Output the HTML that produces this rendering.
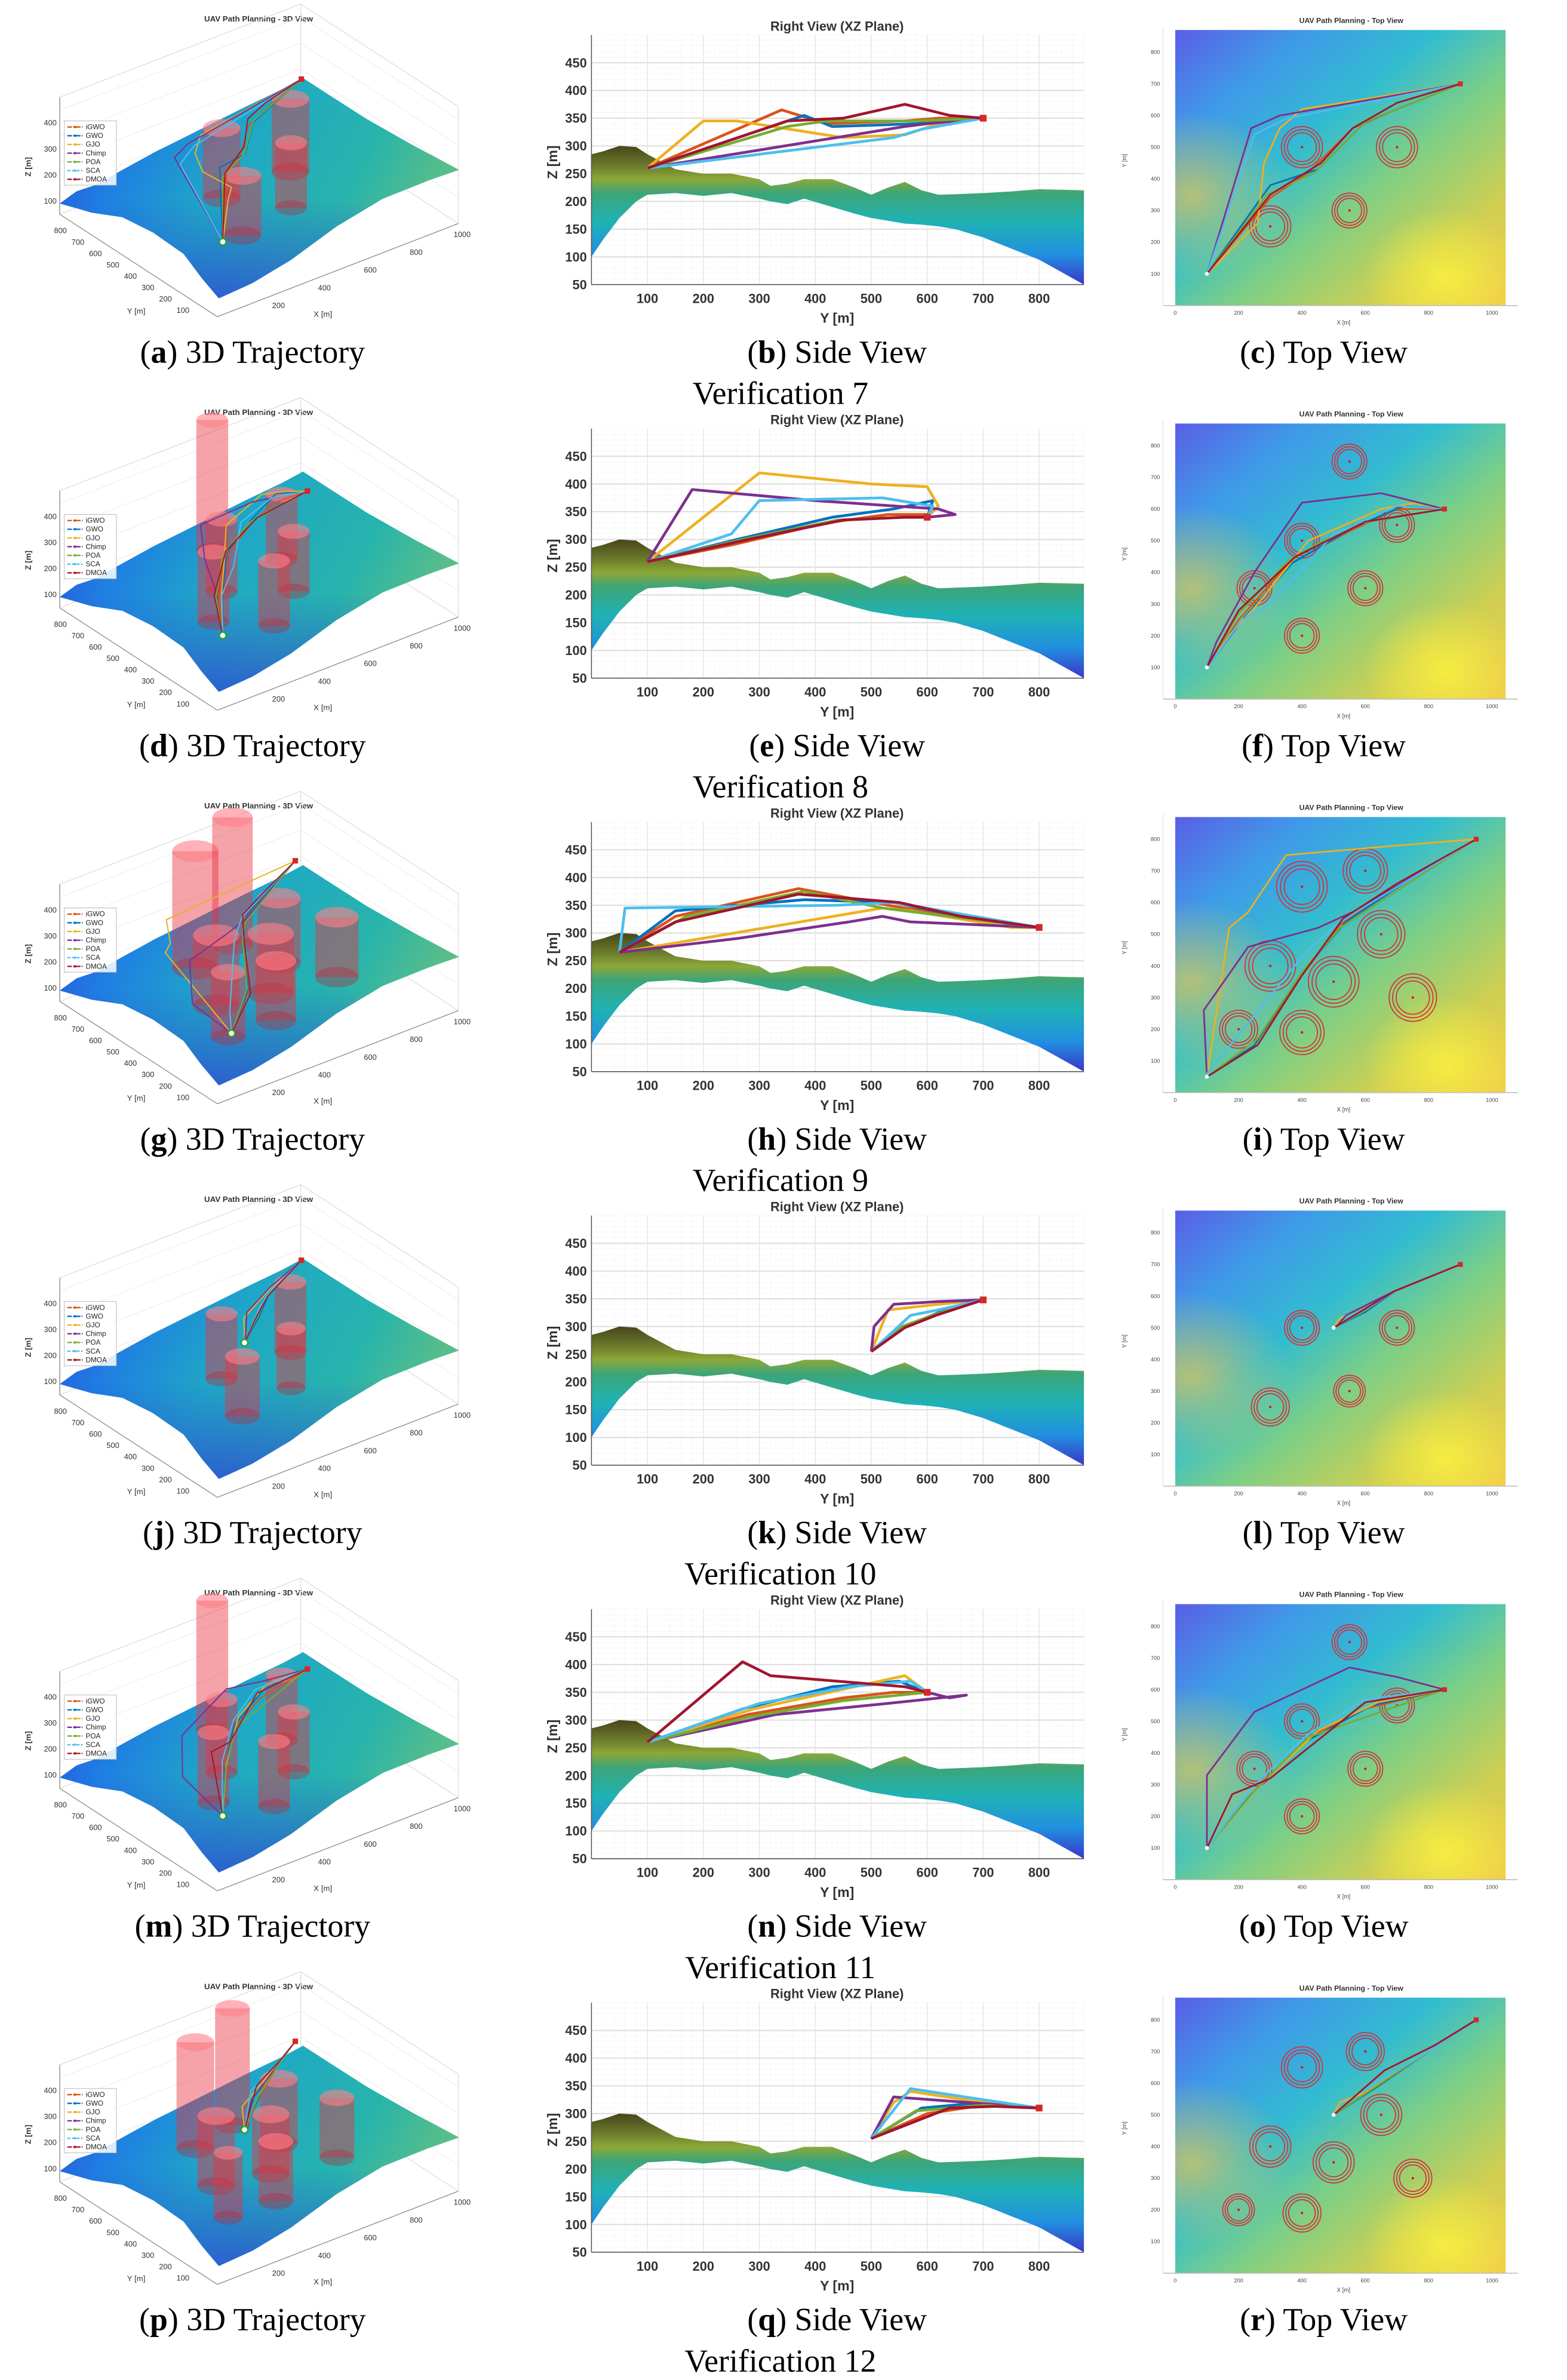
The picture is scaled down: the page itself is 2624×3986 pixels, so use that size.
<!DOCTYPE html>
<html><head><meta charset="utf-8"><title>UAV Path Planning Verification 7-12</title>
<style>
html,body{margin:0;padding:0;background:#fff;}
svg{display:block;}
text{font-family:"Liberation Sans",sans-serif;}
.cap{font-family:"Liberation Serif",serif;font-size:21px;fill:#000;}
</style></head>
<body>
<svg id="fig" xmlns="http://www.w3.org/2000/svg" width="2624" height="3986" viewBox="0 0 1024 1555.5" preserveAspectRatio="none">
<defs>
<linearGradient id="sideTerr" x1="0" y1="0" x2="0" y2="1">
<stop offset="0" stop-color="#474519"/><stop offset="0.14" stop-color="#6b7a2c"/>
<stop offset="0.24" stop-color="#8ca838"/><stop offset="0.34" stop-color="#3da577"/>
<stop offset="0.55" stop-color="#1fb2b5"/><stop offset="0.78" stop-color="#2190e0"/>
<stop offset="1" stop-color="#3a36c8"/></linearGradient>
<linearGradient id="topBg" x1="0" y1="0" x2="1" y2="1">
<stop offset="0" stop-color="#5a5ee6"/><stop offset="0.2" stop-color="#3f9ae8"/>
<stop offset="0.4" stop-color="#32bcd0"/><stop offset="0.58" stop-color="#7ccf86"/>
<stop offset="0.8" stop-color="#cfcf52"/><stop offset="1" stop-color="#f2c64c"/></linearGradient>
<radialGradient id="topSpot" cx="0.82" cy="0.9" r="0.25">
<stop offset="0" stop-color="#f8f040" stop-opacity="0.9"/><stop offset="1" stop-color="#f8f040" stop-opacity="0"/></radialGradient>
<radialGradient id="topSpot2" cx="0.05" cy="0.6" r="0.3">
<stop offset="0" stop-color="#e8c850" stop-opacity="0.7"/><stop offset="1" stop-color="#e8c850" stop-opacity="0"/></radialGradient>
<linearGradient id="terr3d" x1="0" y1="0" x2="1" y2="0.3">
<stop offset="0" stop-color="#2b45dc"/><stop offset="0.25" stop-color="#1f7fe2"/>
<stop offset="0.5" stop-color="#1fa8c6"/><stop offset="0.8" stop-color="#27b4ac"/>
<stop offset="1" stop-color="#58bd8a"/></linearGradient>
<linearGradient id="terr3dShade" x1="0" y1="0" x2="0" y2="1">
<stop offset="0.55" stop-color="#2f40d8" stop-opacity="0"/><stop offset="1" stop-color="#2f40d8" stop-opacity="0.7"/></linearGradient>
</defs>
</svg>
<script>
// ---------------- data ----------------
const algoNames = ['iGWO','GWO','GJO','Chimp','POA','SCA','DMOA'];
const algoColors = ['#d95319','#0072bd','#edb120','#7e2f8e','#77ac30','#4dbeee','#a2142f'];
const verificationLabels = ['Verification 7','Verification 8','Verification 9','Verification 10','Verification 11','Verification 12'];
const panelLetters = [['a','b','c'],['d','e','f'],['g','h','i'],['j','k','l'],['m','n','o'],['p','q','r']];
const zTicks = [50,100,150,200,250,300,350,400,450];
const yTicks = [100,200,300,400,500,600,700,800];
const topTicks = [0,200,400,600,800,1000];
const topYTicks = [100,200,300,400,500,600,700,800];
const z3dTicks = [100,200,300,400];
const x3dTicks = [200,400,600,800,1000];
const y3dTicks = [100,200,300,400,500,600,700,800];
// side-view terrain profile (Y, ridge Z, front-bottom Z)
const terrY = [0,20,50,80,100,150,200,250,300,320,350,380,430,470,500,530,560,590,620,650,700,750,800,880];
const terrTop = [285,290,300,298,285,258,250,250,240,228,232,240,240,225,212,225,235,220,212,213,215,218,222,220];
const terrBot = [100,130,170,200,212,215,210,215,205,200,195,205,190,178,170,165,160,158,155,150,135,115,95,50];
// starts / goals [x,y,z]
const starts = [[100,100,260],[100,100,260],[100,50,265],[500,500,255],[100,100,260],[500,500,255]];
const goals = [[900,700,350],[850,600,340],[950,800,310],[900,700,348],[850,600,350],[950,800,310]];
// obstacles [x,y,r]
const obs7 = [[400,500,65],[700,500,65],[300,250,65],[550,300,55]];
const obs8 = [[550,750,55],[400,500,55],[700,550,55],[250,350,55],[600,350,55],[400,200,55]];
const obs9 = [[400,650,80],[600,700,70],[300,400,80],[650,500,75],[500,350,80],[200,200,60],[400,190,70],[750,300,75]];
const obs10 = [[400,500,55],[700,500,55],[300,250,60],[550,300,50]];
const obs11 = [[550,750,55],[400,500,55],[700,550,55],[250,350,55],[600,350,55],[400,200,55]];
const obs12 = [[400,650,65],[600,700,60],[300,400,65],[650,500,65],[500,350,65],[200,200,50],[400,190,60],[750,300,60]];
const obstacles = [obs7,obs8,obs9,obs10,obs11,obs12];
// cylinder top heights (3D view)
const cylTop = [[420,430,380,400],[650,430,400,420,380,400],[600,640,420,400,380,400,380,380],[400,420,380,380],[650,430,400,420,380,400],[560,600,420,400,380,400,380,380]];
// waypoints per algorithm [x,y,z]
const paths7 = [
 [[300,340,365],[420,420,340],[560,560,345],[700,620,350]],
 [[300,380,355],[450,430,335],[600,580,340]],
 [[200,200,345],[260,260,345],[280,450,315],[330,560,320],[400,620,340]],
 [[240,560,335],[330,600,340]],
 [[290,350,335],[440,420,345],[600,580,345]],
 [[250,540,315],[350,590,330]],
 [[300,350,345],[460,450,350],[560,560,375],[700,640,355]]];
const paths8 = [
 [[200,250,290],[350,420,330],[550,530,345],[700,600,345]],
 [[220,260,300],[370,430,340],[560,540,355],[720,610,370]],
 [[170,200,340],[260,300,420],[420,500,400],[650,600,395],[760,620,360]],
 [[130,180,390],[250,400,370],[400,620,355],[650,650,345]],
 [[200,270,300],[360,440,335],[560,550,340]],
 [[210,250,310],[300,300,370],[500,520,375],[700,610,360]],
 [[200,280,300],[380,450,335],[600,560,340]]];
const paths9 = [
 [[250,150,330],[400,370,380],[520,530,350],[700,650,330]],
 [[250,150,340],[400,380,360],[540,540,355],[720,660,330]],
 [[170,520,345],[230,570,340],[350,750,310],[700,780,310]],
 [[90,260,290],[230,460,320],[450,520,330],[560,570,320]],
 [[260,170,330],[400,380,375],[520,520,345]],
 [[100,60,345],[410,440,350],[520,540,355]],
 [[260,150,320],[400,370,370],[530,550,355],[700,660,330]]];
const paths10 = [
 [[600,560,300],[680,610,320]],
 [[600,550,295],[700,620,325]],
 [[520,530,330],[700,620,340]],
 [[510,505,300],[540,540,340],[700,620,345]],
 [[600,555,300],[690,615,322]],
 [[620,570,320],[700,620,330]],
 [[600,560,298],[690,615,320]]];
const paths11 = [
 [[250,280,310],[420,450,340],[600,540,350]],
 [[240,270,320],[400,430,360],[620,550,370]],
 [[260,290,320],[450,470,360],[640,560,380]],
 [[100,330,310],[250,530,330],[550,670,345],[700,640,340]],
 [[250,280,305],[420,450,335]],
 [[250,300,330],[420,460,360],[600,570,370]],
 [[180,270,405],[230,290,395],[300,320,380],[600,560,360]]];
const paths12 = [
 [[650,600,300],[800,700,315]],
 [[640,590,310],[800,700,320]],
 [[520,540,320],[600,570,340],[800,700,320]],
 [[560,540,330],[800,700,318]],
 [[620,580,305],[800,700,315]],
 [[580,570,345],[800,700,325]],
 [[660,640,310],[820,720,313]]];
const allPaths = [paths7,paths8,paths9,paths10,paths11,paths12];

// ---------------- helpers ----------------
const NS='http://www.w3.org/2000/svg';
const svg=document.getElementById('fig');
function mk(tag,parent,attrs){const e=document.createElementNS(NS,tag);for(const k in attrs)e.setAttribute(k,attrs[k]);parent.appendChild(e);return e;}
function txt(parent,x,y,s,size,attrs){const t=mk('text',parent,Object.assign({x:x,y:y,'font-size':size},attrs||{}));t.textContent=s;return t;}
const ROW=257.2;
// axis functions
const sideX=v=>386.5+v*0.3657;
const sideZ=(z,r)=>r+186-(z-50)*0.3625;
const topX=v=>768+v*0.207;
const topY=(v,r)=>r+199.7-v*0.207;
function p3(x,y,z,r){return [142+0.150*x-0.1144*y, r+207-0.058*x-0.0744*y-0.17*(z-50)];}

for(let i=0;i<6;i++){
 const r=i*ROW;
 const row=mk('g',svg,{});
 
 
 const full=[]; // full path per algorithm incl start/goal
 allPaths[i].forEach(p=>full.push([starts[i]].concat(p).concat([goals[i]])));

 // ================= 3D panel =================
 const g3=mk('g',row,{});
 
 
 const t3=txt(g3,169,r+14,'UAV Path Planning - 3D View',5.2,{'text-anchor':'middle','font-weight':'bold',fill:'#333'});
 
 
 const c0=p3(0,0,50,r),cL=p3(0,900,50,r),cR=p3(1050,0,50,r),cB=p3(1050,900,50,r);
 const H=0.17*450;
 const box=[[cL,cB],[cB,cR],[cL,[cL[0],cL[1]-H]],[cB,[cB[0],cB[1]-H]],[cR,[cR[0],cR[1]-H]],[[cL[0],cL[1]-H],[cB[0],cB[1]-H]],[[cB[0],cB[1]-H],[cR[0],cR[1]-H]]];
 box.forEach(b=>mk('line',g3,{x1:b[0][0],y1:b[0][1],x2:b[1][0],y2:b[1][1],stroke:'#dcdcdc','stroke-width':0.5}));
 for(let k=1;k<5;k++){const a=p3(0,900,50+k*100,r),b=p3(1050,900,50+k*100,r),c=p3(1050,0,50+k*100,r);
  mk('polyline',g3,{points:a.join(',')+' '+b.join(',')+' '+c.join(','),fill:'none',stroke:'#ececec','stroke-width':0.4});}
 mk('line',g3,{x1:c0[0],y1:c0[1],x2:cL[0],y2:cL[1],stroke:'#888','stroke-width':0.5});
 mk('line',g3,{x1:c0[0],y1:c0[1],x2:cR[0],y2:cR[1],stroke:'#888','stroke-width':0.5});
 mk('line',g3,{x1:cL[0],y1:cL[1],x2:cL[0],y2:cL[1]-H,stroke:'#888','stroke-width':0.5});
 z3dTicks.forEach(z=>{const p=p3(0,900,z,r);txt(g3,p[0]-2,p[1]+1.5,String(z),5,{'text-anchor':'end',fill:'#333'});});
 y3dTicks.forEach(y=>{const p=p3(0,y,50,r);txt(g3,p[0]-11,p[1]+5,String(y),5,{'text-anchor':'middle',fill:'#333'});});
 x3dTicks.forEach(x=>{const p=p3(x,0,50,r);txt(g3,p[0]+10,p[1]+6,String(x),5,{'text-anchor':'middle',fill:'#333'});});
 txt(g3,89,r+205,'Y [m]',5.2,{'text-anchor':'middle',fill:'#333'});
 txt(g3,211,r+207,'X [m]',5.2,{'text-anchor':'middle',fill:'#333'});
 txt(g3,0,0,'Z [m]',5.2,{'text-anchor':'middle','font-weight':'bold',fill:'#333',transform:'translate(20,'+(r+109)+') rotate(-90)'});
 const terrPts=[[39,133],[50,125],[62,121],[80,111],[100,100],[130,85],[160,70],[185,58],[198,51],[215,62],[240,78],[270,95],[300,111],[280,118],[250,130],[220,148],[190,170],[165,185],[143,195],[132,182],[120,166],[100,152],[80,142],[60,139]];
 const terr=mk('polygon',g3,{points:terrPts.map(p=>p[0]+','+(p[1]+r)).join(' '),fill:'url(#terr3d)'});
 
 
 mk('polygon',g3,{points:terrPts.map(p=>p[0]+','+(p[1]+r)).join(' '),fill:'url(#terr3dShade)'});
 // cylinders
 obstacles[i].forEach((o,k)=>{
  const top=p3(o[0],o[1],cylTop[i][k],r),bot=p3(o[0],o[1],150,r);
  const rx=o[2]*0.189,ry=o[2]*0.09;
  const cg=mk('g',g3,{});
  
  
  mk('rect',cg,{x:top[0]-rx,y:top[1],width:2*rx,height:bot[1]-top[1],fill:'#e83040','fill-opacity':0.45});
  mk('ellipse',cg,{cx:bot[0],cy:bot[1],rx:rx,ry:ry,fill:'#b03040','fill-opacity':0.4});
  mk('ellipse',cg,{cx:top[0],cy:top[1],rx:rx,ry:ry,fill:'#ff8088','fill-opacity':0.6});
 });
 full.forEach((p,a)=>{
  const pl=mk('polyline',g3,{points:p.map(q=>p3(q[0],q[1],q[2],r).join(',')).join(' '),fill:'none',stroke:algoColors[a],'stroke-width':0.8});
  
  
 });
 {const s=p3(starts[i][0],starts[i][1],starts[i][2],r),g=p3(goals[i][0],goals[i][1],goals[i][2],r);
  mk('circle',g3,{cx:s[0],cy:s[1],r:2.2,fill:'#fff',stroke:'#2ca02c','stroke-width':1});
  mk('rect',g3,{x:g[0]-1.8,y:g[1]-1.8,width:3.6,height:3.6,fill:'#d62728'});}
 // legend
 const lg=mk('g',g3,{});
 
 
 mk('rect',lg,{x:42,y:r+79,width:34,height:42,fill:'#fff','fill-opacity':0.85,stroke:'#bbb','stroke-width':0.4});
 algoNames.forEach((n,a)=>{
  const y=r+84.5+a*5.7;
  const le=mk('g',lg,{});
  
  
  mk('line',le,{x1:44,y1:y-1.5,x2:54,y2:y-1.5,stroke:algoColors[a],'stroke-width':0.9,'stroke-dasharray':a==5?'2,1':'3,0.8,1,0.8'});
  mk('circle',le,{cx:49,cy:y-1.5,r:0.8,fill:algoColors[a]});
  txt(le,56,y,n,4.6,{fill:'#222'});
 });

 // ================= Side view =================
 const gs=mk('g',row,{});
 
 
 const st=txt(gs,547,r+20,'Right View (XZ Plane)',8.5,{'text-anchor':'middle','font-weight':'bold',fill:'#333'});
 
 
 for(let v=20;v<=880;v+=20)mk('line',gs,{x1:sideX(v),y1:sideZ(500,r),x2:sideX(v),y2:sideZ(50,r),stroke:'#e6e6e6','stroke-width':0.3,'stroke-dasharray':'0.6,0.8'});
 for(let z=60;z<=500;z+=10)mk('line',gs,{x1:sideX(0),y1:sideZ(z,r),x2:sideX(880),y2:sideZ(z,r),stroke:'#e6e6e6','stroke-width':0.3,'stroke-dasharray':'0.6,0.8'});
 zTicks.forEach(z=>mk('line',gs,{x1:sideX(0),y1:sideZ(z,r),x2:sideX(880),y2:sideZ(z,r),stroke:'#dedede','stroke-width':0.8}));
 yTicks.forEach(v=>mk('line',gs,{x1:sideX(v),y1:sideZ(500,r),x2:sideX(v),y2:sideZ(50,r),stroke:'#e2e2e2','stroke-width':0.5}));
 const tp=terrY.map((v,k)=>sideX(v)+','+sideZ(terrTop[k],r));
 const bp=terrY.map((v,k)=>sideX(v)+','+sideZ(terrBot[k],r)).reverse();
 const gid='sg'+i;
 const lgd=mk('linearGradient',svg.querySelector('defs'),{id:gid,gradientUnits:'userSpaceOnUse',x1:0,y1:sideZ(300,r),x2:0,y2:sideZ(50,r)});
 [['0','#474519'],['0.14','#6b7a2c'],['0.24','#8ca838'],['0.34','#3da577'],['0.55','#1fb2b5'],['0.78','#2190e0'],['1','#3a36c8']].forEach(s=>mk('stop',lgd,{offset:s[0],'stop-color':s[1]}));
 const tpoly=mk('polygon',gs,{points:tp.concat(bp).join(' '),fill:'url(#'+gid+')'});
 
 
 mk('line',gs,{x1:sideX(0),y1:sideZ(500,r),x2:sideX(0),y2:sideZ(50,r),stroke:'#555','stroke-width':0.6});
 mk('line',gs,{x1:sideX(0),y1:sideZ(50,r),x2:sideX(880),y2:sideZ(50,r),stroke:'#555','stroke-width':0.6});
 zTicks.forEach(z=>txt(gs,sideX(0)-3,sideZ(z,r)+3,String(z),8.5,{'text-anchor':'end',fill:'#333','font-weight':'bold'}));
 yTicks.forEach(v=>txt(gs,sideX(v),sideZ(50,r)+12,String(v),8.5,{'text-anchor':'middle',fill:'#333','font-weight':'bold'}));
 txt(gs,547,r+211,'Y [m]',9,{'text-anchor':'middle',fill:'#333','font-weight':'bold'});
 txt(gs,0,0,'Z [m]',9,{'text-anchor':'middle','font-weight':'bold',fill:'#333',transform:'translate(364,'+(r+106)+') rotate(-90)'});
 full.forEach((p,a)=>{
  const pl=mk('polyline',gs,{points:p.map(q=>sideX(q[1])+','+sideZ(q[2],r)).join(' '),fill:'none',stroke:algoColors[a],'stroke-width':1.8,'stroke-linejoin':'round'});
  
  
 });
 mk('rect',gs,{x:sideX(goals[i][1])-2.2,y:sideZ(goals[i][2],r)-2.2,width:4.4,height:4.4,fill:'#d62728'});

 // ================= Top view =================
 const gt=mk('g',row,{});
 
 
 const tt=txt(gt,883,r+15,'UAV Path Planning - Top View',4.8,{'text-anchor':'middle','font-weight':'bold',fill:'#333'});
 
 
 const bx=topX(0),by=topY(870,r),bw=topX(1043)-topX(0),bh=topY(0,r)-topY(870,r);
 const bg=mk('rect',gt,{x:bx,y:by,width:bw,height:bh,fill:'url(#topBg)'});
 
 
 mk('rect',gt,{x:bx,y:by,width:bw,height:bh,fill:'url(#topSpot)'});
 mk('rect',gt,{x:bx,y:by,width:bw,height:bh,fill:'url(#topSpot2)'});
 mk('line',gt,{x1:bx-8,y1:topY(0,r),x2:bx+bw+8,y2:topY(0,r),stroke:'#bbb','stroke-width':0.6});
 mk('line',gt,{x1:bx-8,y1:by-2,x2:bx-8,y2:topY(0,r),stroke:'#ddd','stroke-width':0.4});
 topTicks.forEach(v=>txt(gt,topX(v),topY(0,r)+6,String(v),3.6,{'text-anchor':'middle',fill:'#444'}));
 topYTicks.forEach(v=>txt(gt,bx-10,topY(v,r)+1.2,String(v),3.6,{'text-anchor':'end',fill:'#444'}));
 txt(gt,878,r+212,'X [m]',3.8,{'text-anchor':'middle',fill:'#444'});
 txt(gt,0,0,'Y [m]',3.8,{'text-anchor':'middle',fill:'#444',transform:'translate(736,'+(r+105)+') rotate(-90)'});
 obstacles[i].forEach(o=>{
  const og=mk('g',gt,{});
  
  
  [1,0.85,0.7].forEach(f=>mk('circle',og,{cx:topX(o[0]),cy:topY(o[1],r),r:o[2]*f*0.207,fill:'none',stroke:'#d0343c','stroke-width':0.7}));
  mk('circle',og,{cx:topX(o[0]),cy:topY(o[1],r),r:0.8,fill:'#e01020'});
 });
 full.forEach((p,a)=>{
  const pl=mk('polyline',gt,{points:p.map(q=>topX(q[0])+','+topY(q[1],r)).join(' '),fill:'none',stroke:algoColors[a],'stroke-width':1.1,'stroke-linejoin':'round'});
  
  
 });
 mk('circle',gt,{cx:topX(starts[i][0]),cy:topY(starts[i][1],r),r:1.3,fill:'#fff'});
 mk('rect',gt,{x:topX(goals[i][0])-1.6,y:topY(goals[i][1],r)-1.6,width:3.2,height:3.2,fill:'#d62728'});

 // ================= captions =================
 const caps=['3D Trajectory','Side View','Top View'];
 const cx=[165,547,865];
 caps.forEach((c,k)=>{
  const t=mk('text',row,{x:cx[k],y:r+237,'text-anchor':'middle',class:'cap'});
  
  
  t.appendChild(document.createTextNode('('));
  const b=mk('tspan',t,{'font-weight':'bold'});b.textContent=panelLetters[i][k];
  t.appendChild(document.createTextNode(') '+c));
 });
 const vt=mk('text',row,{x:510,y:r+264,'text-anchor':'middle',class:'cap'});
 vt.textContent=verificationLabels[i];
 
 
}
</script>
</body></html>
